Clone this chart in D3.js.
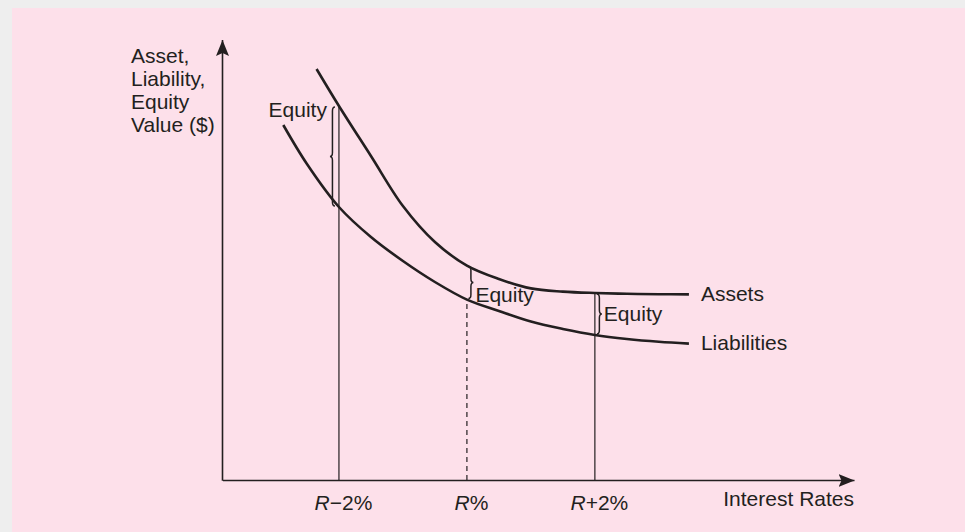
<!DOCTYPE html>
<html>
<head>
<meta charset="utf-8">
<script src="https://cdn.jsdelivr.net/npm/d3@7"></script>
<style>
  html, body { margin: 0; padding: 0; background: #eeeeee; }
  text { font-family: "Liberation Sans", Arial, Helvetica, sans-serif; fill: #231f20; }
</style>
</head>
<body>
<div id="chart"></div>
<script>
// rates are expressed relative to R (0 = R%), values in arbitrary $ units
var assetRates  = [-2.35, -2.0, -1.5, -1.0, -0.5, 0, 0.5, 1.0, 1.5, 2.0, 2.5, 3.0, 3.47];
var assetValues = [102.75, 93.5, 81.0, 68.5, 59.5, 53.6, 50.25, 47.9, 47.1, 46.75, 46.55, 46.45, 46.4];

var liabRates  = [-2.87, -2.5, -2.0, -1.5, -1.0, -0.5, 0, 0.5, 1.0, 1.5, 2.0, 2.5, 3.0, 3.47];
var liabValues = [88.75, 79.0, 68.25, 60.75, 54.75, 49.5, 45.1, 42.25, 39.6, 37.75, 36.25, 35.25, 34.55, 34.1];

var tickRates  = [-2, 0, 2];
var tickLabels = [["R", "\u22122%"], ["R", "%"], ["R", "+2%"]];

var width = 965, height = 532;
var ink = "#231f20";
var fs = "21px";

var svg = d3.select("#chart").append("svg")
    .attr("width", width)
    .attr("height", height);

svg.append("rect").attr("width", width).attr("height", height).attr("fill", "#eeeeee");
svg.append("rect").attr("x", 12).attr("y", 8)
    .attr("width", width - 12).attr("height", height - 8)
    .attr("fill", "#fde0ea");

var x = d3.scaleLinear().domain([-3.82, 6.05]).range([222.5, 854]);
var y = d3.scaleLinear().domain([0, 110]).range([480, 40]);

// arrow head
svg.append("defs").append("marker")
    .attr("id", "arrow")
    .attr("markerUnits", "userSpaceOnUse")
    .attr("viewBox", "0 0 16 13")
    .attr("refX", 16).attr("refY", 6.5)
    .attr("markerWidth", 16).attr("markerHeight", 13)
    .attr("orient", "auto")
    .append("path")
    .attr("d", "M0,0 L16,6.5 L0,13 L3,6.5 Z")
    .attr("fill", ink);

var assets = assetRates.map(function(r, i) { return [r, assetValues[i]]; });
var liabs = liabRates.map(function(r, i) { return [r, liabValues[i]]; });

function valueAt(rates, values, r) {
    var i = rates.indexOf(r);
    return values[i];
}

// vertical guides
var guides = [
    {r: -2, top: valueAt(assetRates, assetValues, -2), dash: null},
    {r: 0, top: valueAt(liabRates, liabValues, 0), dash: "5,4"},
    {r: 2, top: valueAt(assetRates, assetValues, 2), dash: null}
];
svg.append("g").selectAll("line")
    .data(guides)
    .enter().append("line")
    .attr("x1", function(d) { return x(d.r); })
    .attr("x2", function(d) { return x(d.r); })
    .attr("y1", y(0))
    .attr("y2", function(d) { return y(d.top); })
    .attr("stroke", ink)
    .attr("stroke-width", 1.2)
    .attr("stroke-dasharray", function(d) { return d.dash; });

// curves
var line = d3.line()
    .x(function(d) { return x(d[0]); })
    .y(function(d) { return y(d[1]); })
    .curve(d3.curveCatmullRom.alpha(0.5));

svg.append("g").selectAll("path")
    .data([assets, liabs])
    .enter().append("path")
    .attr("d", line)
    .attr("fill", "none")
    .attr("stroke", ink)
    .attr("stroke-width", 2.6);

// axes
var xAxis = d3.axisBottom(x)
    .tickValues(tickRates)
    .tickSize(0)
    .tickSizeOuter(0)
    .tickPadding(15);

var gx = svg.append("g")
    .attr("transform", "translate(0," + y(0) + ")")
    .call(xAxis);
gx.select(".domain")
    .attr("stroke", ink)
    .attr("stroke-width", 1.6)
    .attr("marker-end", "url(#arrow)");
gx.selectAll(".tick text")
    .attr("font-size", fs)
    .attr("font-family", "\"Liberation Sans\", Arial, sans-serif")
    .attr("fill", ink)
    .attr("dx", 4)
    .text(null)
    .each(function(d, i) {
        var t = d3.select(this);
        t.append("tspan").attr("font-style", "italic").text(tickLabels[i][0]);
        t.append("tspan").text(tickLabels[i][1]);
    });

svg.append("line")
    .attr("x1", x.range()[0]).attr("x2", x.range()[0])
    .attr("y1", y(0) + 0.8).attr("y2", y.range()[1])
    .attr("stroke", ink)
    .attr("stroke-width", 1.6)
    .attr("marker-end", "url(#arrow)");

svg.append("text")
    .attr("x", 854).attr("y", 505.5)
    .attr("text-anchor", "end")
    .attr("font-size", fs)
    .text("Interest Rates");

var yTitle = ["Asset,", "Liability,", "Equity", "Value ($)"];
svg.append("text")
    .attr("x", 131).attr("y", 62.5)
    .attr("font-size", fs)
    .selectAll("tspan")
    .data(yTitle)
    .enter().append("tspan")
    .attr("x", 131)
    .attr("dy", function(d, i) { return i ? 23.2 : 0; })
    .text(function(d) { return d; });

// series labels at the curve ends
var lastA = assets[assets.length - 1], lastL = liabs[liabs.length - 1];
svg.append("g").selectAll("text")
    .data([["Assets", lastA], ["Liabilities", lastL]])
    .enter().append("text")
    .attr("x", function(d) { return x(d[1][0]) + 12; })
    .attr("y", function(d) { return y(d[1][1]) + 6.5; })
    .attr("font-size", fs)
    .text(function(d) { return d[0]; });

// equity braces
function brace(xe, y0, y1, dir, w) {
    // xe: x of the brace ends, dir: -1 points left, +1 points right
    var xm = xe + dir * w * 0.5, xt = xe + dir * w;
    var ym = (y0 + y1) / 2, q = Math.min(4, (y1 - y0) / 6);
    return "M" + xe + "," + y0 +
        " Q" + xm + "," + y0 + " " + xm + "," + (y0 + q) +
        " L" + xm + "," + (ym - q) +
        " Q" + xm + "," + ym + " " + xt + "," + ym +
        " Q" + xm + "," + ym + " " + xm + "," + (ym + q) +
        " L" + xm + "," + (y1 - q) +
        " Q" + xm + "," + y1 + " " + xe + "," + y1;
}

// label placement per brace: text baseline offset from brace middle
var braces = [
    {r: -2, dir: -1, off: -4, dy: 0},
    {r: 0, dir: 1, off: 1.5, dy: 19.5},
    {r: 2, dir: 1, off: 2, dy: 7}
];
braces.forEach(function(b) {
    b.top = y(valueAt(assetRates, assetValues, b.r)) + 1;
    b.bot = y(valueAt(liabRates, liabValues, b.r)) - 1;
});

svg.append("g").selectAll("path")
    .data(braces)
    .enter().append("path")
    .attr("d", function(b) { return brace(x(b.r) + b.off, b.top, b.bot, b.dir, 5); })
    .attr("fill", "none")
    .attr("stroke", ink)
    .attr("stroke-width", 1.5);

svg.append("g").selectAll("text")
    .data(braces)
    .enter().append("text")
    .attr("x", function(b) { return b.dir < 0 ? x(b.r) - 12 : x(b.r) + b.off + 7; })
    .attr("y", function(b) { return b.dir < 0 ? b.top + 10 : (b.top + b.bot) / 2 + b.dy; })
    .attr("text-anchor", function(b) { return b.dir < 0 ? "end" : "start"; })
    .attr("font-size", fs)
    .text("Equity");
</script>
</body>
</html>
